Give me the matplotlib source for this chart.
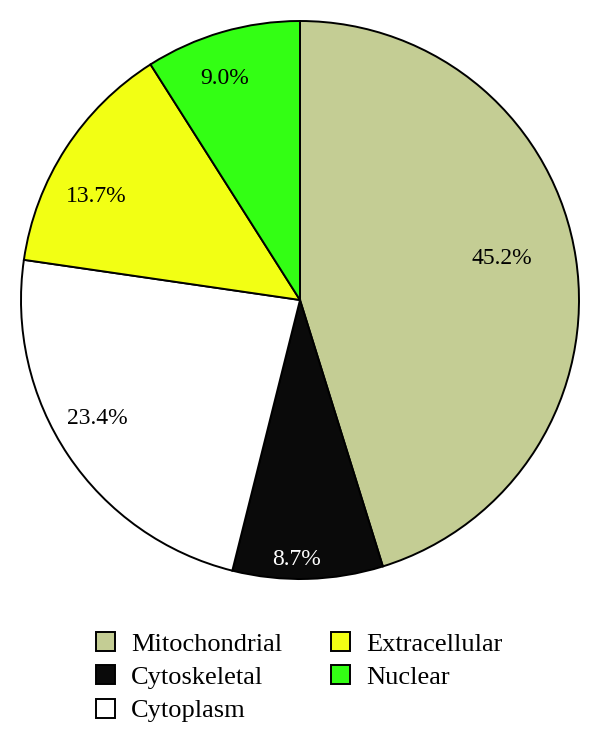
import numpy as np
import matplotlib
matplotlib.use('Agg')
import matplotlib.pyplot as plt

plt.rcParams['font.family'] = ['Liberation Serif', 'DejaVu Serif']

categories = ['Mitochondrial', 'Cytoskeletal', 'Cytoplasm', 'Extracellular', 'Nuclear']
shares = [45.2, 8.7, 23.4, 13.7, 9.0]
colors = ['#c4cd94', '#0a0a0a', '#ffffff', '#f2ff14', '#33ff14']
text_colors = ['black', 'white', 'black', 'black', 'black']
# label placement: radius fraction and angular nudge (deg) from wedge middle
label_r = [0.74, 0.93, 0.84, 0.82, 0.84]
label_dang = [3.0, -2.5, -3.6, 6.0, 2.5]

fig = plt.figure(figsize=(6, 7.46), dpi=100)
ax = fig.add_axes([21 / 600, (746 - 579) / 746, 558 / 600, 558 / 746])

wedges, texts, autotexts = ax.pie(
    shares, colors=colors, startangle=90, counterclock=False,
    autopct='%.1f%%', pctdistance=0.8,
    wedgeprops=dict(edgecolor='black', linewidth=1.4),
    textprops=dict(fontsize=17))
for w, t, r, da, c in zip(wedges, autotexts, label_r, label_dang, text_colors):
    mid = np.deg2rad((w.theta1 + w.theta2) / 2 + da)
    t.set_position((r * np.cos(mid), r * np.sin(mid)))
    t.set_color(c)
ax.set_xlim(-1, 1)
ax.set_ylim(-1, 1)
ax.set_aspect('equal')

fig.legend(wedges, categories, ncol=2, loc='upper left',
           bbox_to_anchor=(96 / 600, 1 - 632 / 746), frameon=False,
           fontsize=19, handlelength=0.72, handleheight=0.72,
           handletextpad=0.6, columnspacing=1.86, labelspacing=0.37,
           borderpad=0, borderaxespad=0)

fig.savefig('out.png', dpi=100)
